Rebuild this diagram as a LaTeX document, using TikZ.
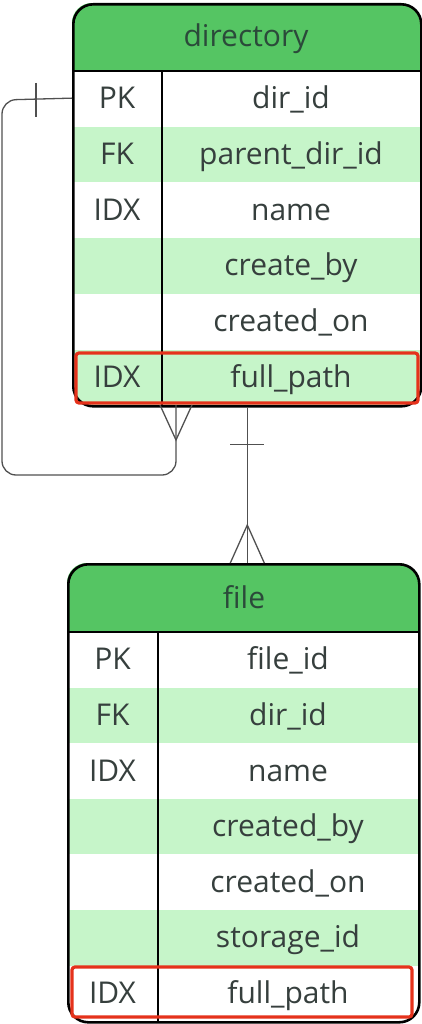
\documentclass[tikz,border=0pt]{standalone}
\usepackage{fontspec}
\setmainfont{Open Sans}
\usetikzlibrary{positioning,calc}
\definecolor{hdr}{HTML}{55C563}
\definecolor{rowg}{HTML}{C6F5C9}
\definecolor{ink}{HTML}{363F3D}
\definecolor{hink}{HTML}{2B4A3A}
\definecolor{idxred}{HTML}{E5321B}
\definecolor{wire}{HTML}{505050}
\tikzset{
  txt/.style={inner sep=0pt,font=\fontsize{30}{35}\selectfont,text=ink},
  htxt/.style={txt,text=hink},
  tframe/.style={draw=black,line width=2.6pt,rounded corners=20pt,anchor=north west,inner sep=0pt},
  idxbox/.style={draw=idxred,line width=3.2pt,rounded corners=3pt},
  rel/.style={draw=wire,line width=1.3pt},
}
\begin{document}
\begin{tikzpicture}[x=1pt,y=-1pt]
\useasboundingbox (0,0) rectangle (421,1024);

% directory table
\begin{scope}
\clip[rounded corners=20pt] (72,3) rectangle (420,405);
\fill[hdr] (72,3) rectangle (420,71);
\foreach \k/\v/\f [count=\i] in {PK/dir\_id/white,FK/parent\_dir\_id/rowg,IDX/name/white,/create\_by/rowg,/created\_on/white,IDX/full\_path/rowg}{
  \fill[\f] (72,{71+(\i-1)*55.7}) rectangle (420,{71+\i*55.7});
  \node[txt,anchor=base] (dk\i) at (117,{71+(\i-0.5)*55.7+10}) {\k};
  \node[txt,anchor=base] (dv\i) at (291,{71+(\i-0.5)*55.7+10}) {\v};
}
\end{scope}
\node[htxt,anchor=base] (dhead) at (246,47) {directory};
\draw[line width=2pt] (162,71) -- (162,405);
\draw[line width=2.6pt] (72,71) -- (420,71);
\node[tframe,minimum width=348pt,minimum height=402pt] (dir) at (72,3) {};
\draw[idxbox] (76,353) rectangle (418,403);

% file table
\begin{scope}
\clip[rounded corners=20pt] (67,563) rectangle (418,1021);
\fill[hdr] (67,563) rectangle (418,632);
\foreach \k/\v/\f [count=\i] in {PK/file\_id/white,FK/dir\_id/rowg,IDX/name/white,/created\_by/rowg,/created\_on/white,/storage\_id/rowg,IDX/full\_path/white}{
  \fill[\f] (67,{632+(\i-1)*55.6}) rectangle (418,{632+\i*55.6});
  \node[txt,anchor=base] (fk\i) at (112.5,{632+(\i-0.5)*55.6+10}) {\k};
  \node[txt,anchor=base] (fv\i) at (288,{632+(\i-0.5)*55.6+10}) {\v};
}
\end{scope}
\node[htxt,anchor=base] (fhead) at (244,608) {file};
\draw[line width=2pt] (158,632) -- (158,1021);
\draw[line width=2.6pt] (67,632) -- (418,632);
\node[tframe,minimum width=351pt,minimum height=458pt] (file) at (67,563) {};
\draw[idxbox] (72,967) rectangle (412,1017);

% self relation: parent_dir_id -> dir_id
\coordinate (selfin) at (176,405);
\draw[rel,rounded corners=14pt] (dk1.west -| dir.west) -- (2,100) -- (2,475) -- (176,475) -- (selfin);
\draw[rel] (36,83) -- (36,117);
\draw[rel] ($(selfin)+(-16,0)$) -- ($(selfin)+(0,35)$) -- ($(selfin)+(16,0)$);

% directory -> file
\coordinate (fin) at (dir.south |- file.north);
\draw[rel] (dir.south) -- (fin);
\draw[rel] ($(dir.south)+(-17,37)$) -- ($(dir.south)+(17,37)$);
\draw[rel] ($(fin)+(-17,0)$) -- ($(fin)+(0,-38)$) -- ($(fin)+(17,0)$);
\end{tikzpicture}
\end{document}
